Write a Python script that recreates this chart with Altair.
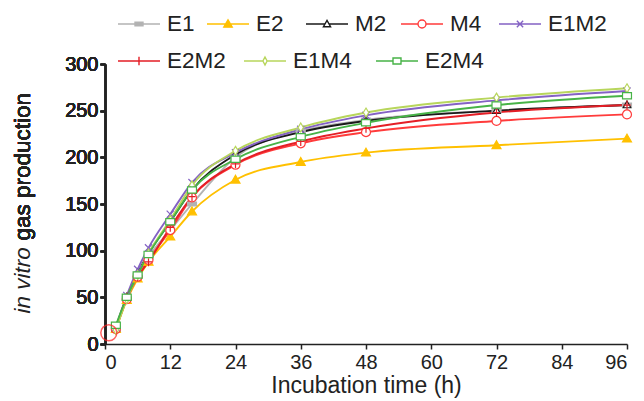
import altair as alt
import pandas as pd

# ---- data ----
times = [2, 4, 6, 8, 12, 16, 24, 36, 48, 72, 96]
series_names = ["E1", "E2", "M2", "M4", "E1M2", "E2M2", "E1M4", "E2M4"]
E1 = [17, 49, 73, 93, 122, 150, 200, 228, 240, 250, 256]
E2 = [16, 47, 70, 88, 115, 142, 176, 195, 205, 213, 220]
M2 = [17, 50, 76, 97, 131, 165, 203, 227, 239, 250, 256]
M4 = [16, 48, 72, 90, 122, 157, 192, 215, 227, 239, 246]
E1M2 = [18, 52, 80, 103, 139, 173, 205, 230, 245, 261, 271]
E2M2 = [17, 50, 72, 88, 125, 158, 193, 217, 231, 248, 256]
E1M4 = [15, 48, 74, 97, 133, 170, 207, 232, 248, 264, 274]
E2M4 = [20, 50, 74, 96, 131, 165, 198, 222, 237, 256, 266]
series_values = [E1, E2, M2, M4, E1M2, E2M2, E1M4, E2M4]

# highlighted start point (red ring)
ring_x = [0.7]
ring_y = [12]

x_ticks = [0, 12, 24, 36, 48, 60, 72, 84, 96]
y_ticks = [0, 50, 100, 150, 200, 250, 300]

# ---- styles / layout ----
line_colors = ["#b3b3b3", "#ffc000", "#1a1a1a", "#ff3b3b", "#8462c4", "#e41e26", "#b8d65c", "#47b347"]
fill_colors = ["#b3b3b3", "#ffc000", "#ffffff", "#ffffff", "#ffffff", "#ffffff", "#ffffff", "#ffffff"]
marker_paths = [
    "M-1,-0.45H1V0.45H-1Z",
    "M0,-1L1,0.75L-1,0.75Z",
    "M0,-0.9L0.85,0.6L-0.85,0.6Z",
    "M1,0A1,1 0 1,1 -1,0A1,1 0 1,1 1,0Z",
    "M-0.8,-0.8L0.8,0.8M-0.8,0.8L0.8,-0.8",
    "M0,-1V1M-0.8,0H0.8",
    "M0,-1L0.6,0L0,1L-0.6,0Z",
    "M-1,-0.7H1V0.7H-1Z",
]
legend_paths = [
    "M-1,0H1M-0.19,-0.08H0.19V0.08H-0.19Z",
    "M-1,0H1M0,-0.2L0.2,0.15L-0.2,0.15Z",
    "M-1,0H-0.1M0.1,0H1M0,-0.17L0.17,0.13L-0.17,0.13Z",
    "M-1,0H-0.19M0.19,0H1M0.19,0A0.19,0.19 0 1,1 -0.19,0A0.19,0.19 0 1,1 0.19,0Z",
    "M-1,0H1M-0.15,-0.15L0.15,0.15M-0.15,0.15L0.15,-0.15",
    "M-1,0H1M0,-0.2V0.2",
    "M-1,0H-0.1M0.1,0H1M0,-0.19L0.1,0L0,0.19L-0.1,0Z",
    "M-1,0H-0.19M0.19,0H1M-0.19,-0.14H0.19V0.14H-0.19Z",
]
# legend entry placement (relative to the plot's top-left corner)
legend_dx = [12, 101, 200, 295, 393, 12, 138, 270]
legend_dy = [-62, -62, -62, -62, -62, -25, -25, -25]

rows = []
for name, vals in zip(series_names, series_values):
    for t, v in zip(times, vals):
        rows.append({"series": name, "time": t, "value": v})
df = pd.DataFrame(rows)
ring_df = pd.DataFrame({"time": ring_x, "value": ring_y})

FONT = "Liberation Sans"
INK = "#222222"

x_axis = alt.Axis(values=x_ticks, title="Incubation time (h)", grid=False,
                  labelFontSize=20, labelFont=FONT, labelColor=INK, labelPadding=3,
                  titleFontSize=23, titleFont=FONT, titleColor=INK, titleFontWeight="normal", titlePadding=2,
                  domainColor=INK, domainWidth=1.5, tickColor=INK, tickWidth=1.5, tickSize=5)
x_enc = alt.X("time:Q", scale=alt.Scale(domain=[0, 96], nice=False), axis=x_axis)

y_axis = alt.Axis(values=y_ticks, title="gas production", grid=False, orient="left",
                  labelFontSize=20, labelFont=FONT, labelColor=INK, labelPadding=2,
                  titleFontSize=22.5, titleFont=FONT, titleColor=INK, titleFontWeight="normal",
                  titleAngle=270, titleAlign="left", titleBaseline="alphabetic", titleX=-76, titleY=176,
                  domainColor=INK, domainWidth=1.5, tickColor=INK, tickWidth=1.5, tickSize=5)
y_scale = alt.Scale(domain=[0, 300], nice=False)
y_enc = alt.Y("value:Q", scale=y_scale, axis=y_axis)

lines = alt.Chart(df).mark_line(interpolate="monotone", strokeWidth=1.9).encode(
    x=x_enc, y=y_enc,
    color=alt.Color("series:N", scale=alt.Scale(domain=series_names, range=line_colors), legend=None, sort=series_names),
)

points = alt.Chart(df).mark_point(filled=False, size=80, strokeWidth=1.2, opacity=1).encode(
    x=x_enc, y=y_enc,
    color=alt.Color("series:N", scale=alt.Scale(domain=series_names, range=line_colors), legend=None, sort=series_names),
    shape=alt.Shape("series:N", scale=alt.Scale(domain=series_names, range=marker_paths), legend=None),
    fill=alt.Fill("series:N", scale=alt.Scale(domain=series_names, range=fill_colors), legend=None),
)

legend_layers = []
for i, name in enumerate(series_names):
    leg = alt.Legend(
        title=None, orient="none", legendX=legend_dx[i], legendY=legend_dy[i],
        symbolSize=1764, symbolStrokeWidth=1.4,
        labelFontSize=22.5, labelFont=FONT, labelColor=INK, labelOffset=6,
    )
    legend_layers.append(
        alt.Chart(df).transform_filter("datum.time < 0").mark_point(
            filled=False, size=1764, strokeWidth=1.4, opacity=1
        ).encode(
            x=x_enc, y=y_enc,
            color=alt.Color("series:N", scale=alt.Scale(domain=[name], range=[line_colors[i]]), legend=leg),
            shape=alt.Shape("series:N", scale=alt.Scale(domain=[name], range=[legend_paths[i]]), legend=leg),
            fill=alt.Fill("series:N", scale=alt.Scale(domain=[name], range=[fill_colors[i]]), legend=leg),
        )
    )

ring_axis = alt.Axis(title="in vitro", orient="left", labels=False, ticks=False, domain=False, grid=False,
                     titleFontSize=22.5, titleFont=FONT, titleColor=INK, titleFontWeight="normal",
                     titleFontStyle="italic", titleAngle=270, titleAlign="left", titleBaseline="alphabetic",
                     titleX=-76, titleY=249)
ring = alt.Chart(ring_df).mark_point(shape="circle", filled=False, size=256, color="#ff2020", strokeWidth=1.5).encode(
    x=x_enc,
    y=alt.Y("value:Q", scale=y_scale, axis=ring_axis),
)

chart = alt.layer(lines, points, *legend_layers, ring).resolve_scale(
    color="independent", shape="independent", fill="independent"
).resolve_axis(y="independent").properties(
    width=522, height=280, autosize="none",
    padding={"left": 97, "top": 56, "right": 9, "bottom": 56},
).configure_view(stroke=None)

chart.save("out.html", embed_options={"renderer": "svg", "actions": False})
